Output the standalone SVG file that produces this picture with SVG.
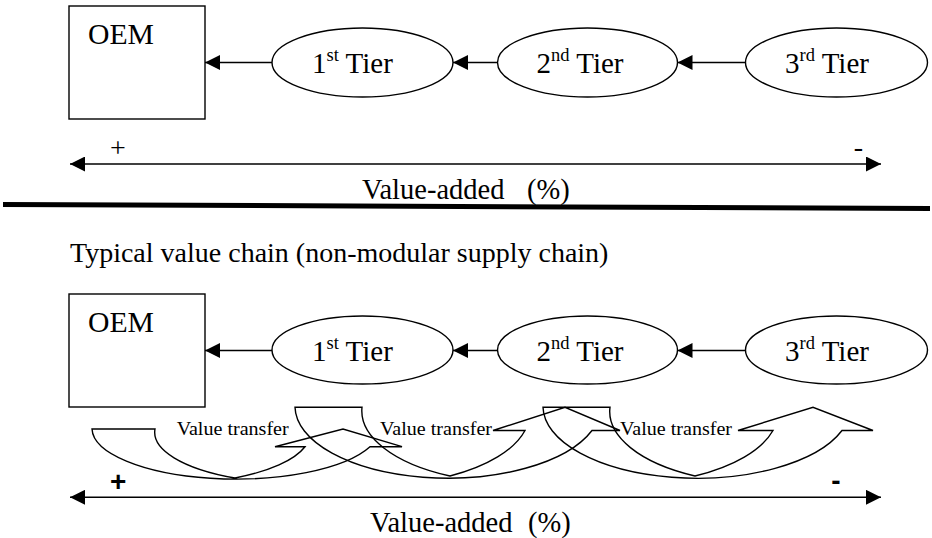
<svg xmlns="http://www.w3.org/2000/svg" width="932" height="538" viewBox="0 0 932 538">
<style>
  .shape { fill: #fff; stroke: #000; stroke-width: 1.4; }
  .edge { fill: none; stroke: #000; stroke-width: 1.4; }
  .va { fill: none; stroke: #000; stroke-width: 1.4; }
  .vt { fill: none; stroke: #000; stroke-width: 1.4; stroke-linejoin: miter; }
  .t { font-family: "Liberation Serif", "Times New Roman", serif; fill: #000; }
  .big { font-size: 28.5px; }
  .node { font-size: 29px; }
  .sup { font-size: 18.5px; }
  .lbl { font-size: 18px; }
  .sign { font-family: "Liberation Sans", Arial, sans-serif; font-weight: bold; font-size: 28px; }
</style>
<defs>
  <marker id="ah" markerUnits="userSpaceOnUse" markerWidth="15" markerHeight="15" refX="15" refY="7.5" orient="auto-start-reverse">
    <path d="M0,0 L15,7.5 L0,15 Z" fill="#000"/>
  </marker>
</defs>
<rect width="932" height="538" fill="#fff"/>

<!-- ===== Top diagram ===== -->
<g id="top-oem">
  <rect class="shape" x="69" y="6" width="136" height="113"/>
  <text class="t big" x="88" y="44" textLength="66" lengthAdjust="spacingAndGlyphs">OEM</text>
</g>
<g id="top-tier1">
  <ellipse class="shape" cx="362.5" cy="62.5" rx="90.5" ry="34.5"/>
  <text class="t node" x="312" y="73">1<tspan class="sup" dy="-12">st</tspan><tspan dy="12"> Tier</tspan></text>
</g>
<g id="top-tier2">
  <ellipse class="shape" cx="587.5" cy="62.5" rx="90" ry="34.5"/>
  <text class="t node" x="536.5" y="73">2<tspan class="sup" dy="-12">nd</tspan><tspan dy="12"> Tier</tspan></text>
</g>
<g id="top-tier3">
  <ellipse class="shape" cx="836.5" cy="62.5" rx="91" ry="34.5"/>
  <text class="t node" x="785" y="73">3<tspan class="sup" dy="-12">rd</tspan><tspan dy="12"> Tier</tspan></text>
</g>

<!-- ===== Bottom diagram ===== -->
<text id="title" class="t" font-size="28" x="70" y="262">Typical value chain (non-modular supply chain)</text>

<g id="bottom-oem">
  <rect class="shape" x="69" y="294" width="136" height="113"/>
  <text class="t big" x="88" y="332" textLength="66" lengthAdjust="spacingAndGlyphs">OEM</text>
</g>
<g id="bottom-tier1">
  <ellipse class="shape" cx="362.5" cy="350" rx="90.5" ry="34"/>
  <text class="t node" x="312" y="361">1<tspan class="sup" dy="-12">st</tspan><tspan dy="12"> Tier</tspan></text>
</g>
<g id="bottom-tier2">
  <ellipse class="shape" cx="587.5" cy="350" rx="90" ry="34"/>
  <text class="t node" x="536.5" y="361">2<tspan class="sup" dy="-12">nd</tspan><tspan dy="12"> Tier</tspan></text>
</g>
<g id="bottom-tier3">
  <ellipse class="shape" cx="836.5" cy="350" rx="91" ry="34"/>
  <text class="t node" x="785" y="361">3<tspan class="sup" dy="-12">rd</tspan><tspan dy="12"> Tier</tspan></text>
</g>

<!-- ===== Connectors ===== -->
<g id="connectors">
  <line class="edge" x1="272" y1="62.5" x2="205" y2="62.5" marker-end="url(#ah)"/>
  <line class="edge" x1="497.5" y1="62.5" x2="453" y2="62.5" marker-end="url(#ah)"/>
  <line class="edge" x1="745.5" y1="62.5" x2="677.5" y2="62.5" marker-end="url(#ah)"/>
  <line class="edge" x1="272" y1="350.5" x2="205" y2="350.5" marker-end="url(#ah)"/>
  <line class="edge" x1="497.5" y1="350.5" x2="453" y2="350.5" marker-end="url(#ah)"/>
  <line class="edge" x1="745.5" y1="350.5" x2="677.5" y2="350.5" marker-end="url(#ah)"/>
  <!-- value-added axes -->
  <line class="va" x1="70" y1="164" x2="881" y2="164" marker-start="url(#ah)" marker-end="url(#ah)"/>
  <line class="va" x1="70" y1="497.3" x2="881" y2="497.3" marker-start="url(#ah)" marker-end="url(#ah)"/>
</g>

<!-- axis labels -->
<g id="top-axis-labels">
  <text class="t" font-size="28" x="118" y="157" text-anchor="middle">+</text>
  <text class="t" font-size="28" x="858.5" y="156" text-anchor="middle">-</text>
  <text class="t big" y="199"><tspan x="362">Value-added</tspan> <tspan x="527">(%)</tspan></text>
</g>

<!-- separator -->
<line x1="3" y1="204.5" x2="930" y2="208.5" stroke="#000" stroke-width="5"/>

<!-- value transfer arrows -->
<g id="value-transfer">
  <path class="vt" d="M92,429 L155,429 A144,51 0 0 0 235,478 A144,51 0 0 0 305,446.7 L275,446.7 L343,429 L402,446.7 L370,446.7 A144,51 0 0 1 92,429 Z"/>
  <path class="vt" d="M295,407.3 L362,407.3 A153,72 0 0 0 450,476 A153,72 0 0 0 525,430.5 L493,430.5 L565,407.3 L620,430.5 L592,430.5 A153,72 0 0 1 295,407.3 Z"/>
  <path class="vt" d="M543,407.3 L610,407.3 A154,72 0 0 0 695,476 A154,72 0 0 0 773,430.5 L738,430.5 L813,407.3 L873,430.5 L842,430.5 A154,72 0 0 1 543,407.3 Z"/>
  <text class="t lbl" x="176.7" y="435" textLength="112" lengthAdjust="spacingAndGlyphs">Value transfer</text>
  <text class="t lbl" x="380" y="435" textLength="112" lengthAdjust="spacingAndGlyphs">Value transfer</text>
  <text class="t lbl" x="620" y="435" textLength="112" lengthAdjust="spacingAndGlyphs">Value transfer</text>
</g>

<g id="bottom-axis-labels">
  <text class="sign" x="118.3" y="491" text-anchor="middle">+</text>
  <text class="sign" x="836" y="490" text-anchor="middle">-</text>
  <text class="t big" y="532"><tspan x="370">Value-added</tspan> <tspan x="528">(%)</tspan></text>
</g>
</svg>
